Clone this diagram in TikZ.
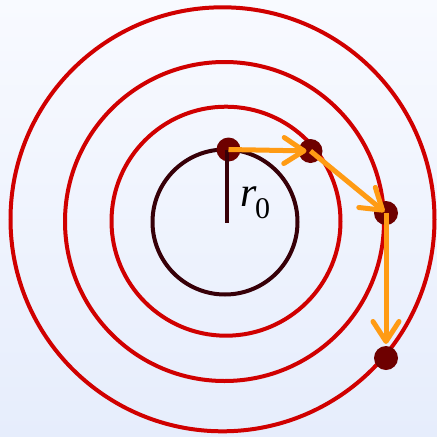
\documentclass[tikz,border=0pt]{standalone}
\usepackage{fontspec}
\setmainfont{Liberation Serif}
\usetikzlibrary{arrows.meta}
\definecolor{ringred}{RGB}{208,0,0}
\definecolor{dotred}{RGB}{110,0,0}
\definecolor{coredark}{RGB}{55,0,8}
\definecolor{arrorange}{RGB}{255,155,20}
\definecolor{bgtop}{RGB}{248,250,255}
\definecolor{bgbot}{RGB}{230,237,252}
\tikzset{
  ring/.style={draw=ringred, line width=4pt},
  core/.style={draw=coredark, line width=4pt},
  ball/.style={circle, fill=dotred, minimum size=24pt, inner sep=0pt},
  jump/.style={draw=arrorange, line width=5pt,
    -{Straight Barb[length=20pt,width=26pt,line width=5pt,round]}},
}
\begin{document}
\begin{tikzpicture}[x=1pt,y=-1pt]
\shade[top color=bgtop, bottom color=bgbot] (0,0) rectangle (437,437);
\useasboundingbox (0,0) rectangle (437,437);
\coordinate (c) at (225,222);
\coordinate (rb) at (227,222.7);
\draw[core] (c) circle[radius=72.5];
\draw[ring] (226,221.2) circle[radius=114.5];
\draw[ring] (224.5,221.5) circle[radius=159.5];
\draw[ring] (222.5,219.3) circle[radius=212];
\node[ball] (d1) at (228.5,149.5) {};
\node[ball] (d2) at (310.5,151) {};
\node[ball] (d3) at (386,213) {};
\node[ball] (d4) at (386,358) {};
\draw[draw=coredark, line width=4pt] (rb) -- (rb |- d1);
\draw[jump, shorten >=4pt] (d1.center) -- (d2.center);
\draw[jump, shorten >=2pt] (d2.center) -- (d3.center);
\draw[jump, shorten >=14pt] (d3.center) -- (d4.center);
\node[anchor=base west, inner sep=0pt] (lbl) at (240.5,206.7)
  {{\fontsize{42}{46}\selectfont\itshape r}\kern-2pt\raisebox{-11.5pt}{\fontsize{30}{34}\selectfont 0}};
\end{tikzpicture}
\end{document}
